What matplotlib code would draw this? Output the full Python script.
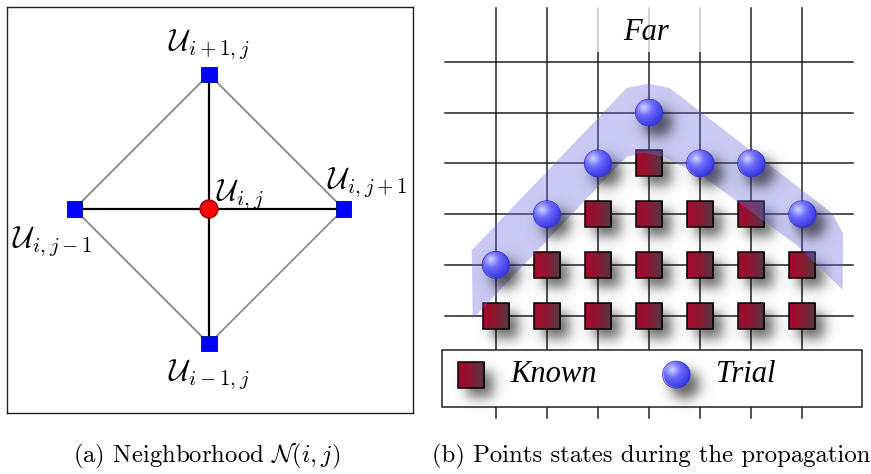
import numpy as np
import matplotlib
matplotlib.use("Agg")
import matplotlib.pyplot as plt
from matplotlib.patches import Rectangle, Polygon, Ellipse
from matplotlib.colors import LinearSegmentedColormap, to_rgb

plt.rcParams["mathtext.fontset"] = "cm"
plt.rcParams["font.serif"] = ["Liberation Serif", "DejaVu Serif"]

# ============================================================
# Datos
# ============================================================

# (a) vecindad: vecinos (arriba, derecha, abajo, izquierda)
nb_x = [0, 1, 0, -1]
nb_y = [1, 0, -1, 0]
nb_labels = [r"$\mathcal{U}_{i+1,j}$", r"$\mathcal{U}_{i,j+1}$",
             r"$\mathcal{U}_{i-1,j}$", r"$\mathcal{U}_{i,j-1}$"]
center_label = r"$\mathcal{U}_{i,j}$"

# (b) malla y estados
grid_cols = [0, 1, 2, 3, 4, 5, 6]
grid_rows = [0, 1, 2, 3, 4, 5]
known_x = [0, 1, 2, 3, 4, 5, 6, 1, 2, 3, 4, 5, 6, 2, 3, 4, 5, 3]
known_y = [0, 0, 0, 0, 0, 0, 0, 1, 1, 1, 1, 1, 1, 2, 2, 2, 2, 3]
trial_x = [0, 1, 6, 2, 4, 5, 3]
trial_y = [1, 2, 2, 3, 3, 3, 4]

# banda del frente (contorno)
band_x = [-0.45, -0.47, 2.56, 2.99, 3.41, 6.58, 6.80, 6.79,
          5.89, 4.06, 3.28, 2.89, 2.56, -0.44]
band_y = [-0.02, 1.29, 4.48, 4.57, 4.48, 2.02, 1.62, 0.51,
          1.39, 2.74, 3.13, 3.21, 3.13, -0.05]

captions = [r"(a) Neighborhood $\mathcal{N}(i,j)$",
            "(b) Points states during the propagation"]

# ============================================================
# Figura
# ============================================================

W, H = 871, 474
fig = plt.figure(figsize=(W / 100, H / 100), dpi=100)

# ---------------- (a) ----------------
ax1 = fig.add_axes([7 / W, (H - 413) / H, 406 / W, 406 / H])
ax1.set_xlim(-1.4996, 1.5145)
ax1.set_ylim(-1.5145, 1.4996)
ax1.set_xticks([])
ax1.set_yticks([])
for sp in ax1.spines.values():
    sp.set_linewidth(1.0)
    sp.set_color("#202020")

# diamante gris
dx = nb_x + [nb_x[0]]
dy = nb_y + [nb_y[0]]
ax1.plot(dx, dy, color="#8a8a8a", lw=1.3, zorder=1)
# cruz negra
for x, y in zip(nb_x, nb_y):
    ax1.plot([0, x], [0, y], color="black", lw=1.6, zorder=2)

sq = 0.056
for x, y in zip(nb_x, nb_y):
    ax1.add_patch(Rectangle((x - sq, y - sq), 2 * sq, 2 * sq, fc="#0000ff",
                            ec="#00008a", lw=0.6, zorder=3))
ax1.add_patch(Ellipse((0, 0), 0.135, 0.135, fc="#ff0000", ec="#700000",
                      lw=0.8, zorder=3))

fs_lab = 21.5
ax1.text(nb_x[0], 1.18, nb_labels[0], ha="center", va="baseline", fontsize=fs_lab)
ax1.text(0.875, 0.156, nb_labels[1], ha="left", va="baseline", fontsize=fs_lab)
ax1.text(nb_x[2], -1.27, nb_labels[2], ha="center", va="baseline", fontsize=fs_lab)
ax1.text(-1.46, -0.28, nb_labels[3], ha="left", va="baseline", fontsize=fs_lab)
ax1.text(0.055, 0.067, center_label, ha="left", va="baseline", fontsize=fs_lab)

# ---------------- (b) ----------------
ax2 = fig.add_axes([430 / W, (H - 420) / H, 441 / W, 420 / H])
ax2.set_xlim(-1.286, 7.345)
ax2.set_ylim(-2.053, 6.215)
ax2.axis("off")

for c in grid_cols:
    ax2.plot([c, c], [-2.01, 6.06], color="#222222", lw=1.1, zorder=1)
for r in grid_rows:
    ax2.plot([-1.0, 7.0], [r, r], color="#222222", lw=1.1, zorder=1)

# zona "Far" aclarada
ax2.add_patch(Rectangle((1.75, 5.19), 2.5, 1.0, fc="white", ec="none",
                        alpha=0.75, zorder=1.5))
ax2.text(2.95, 5.58, "Far", ha="center", va="center", fontsize=22,
         family="serif", style="italic", zorder=2)

cmap_known = LinearSegmentedColormap.from_list("known", ["#a8082c", "#8a1a32", "#4e3b45"])
grad = np.linspace(0, 1, 64).reshape(1, -1)

# imagen de esfera
n = 80
u = np.linspace(-1, 1, n)
U, V = np.meshgrid(u, u)
R = np.sqrt(U ** 2 + V ** 2)
D = np.sqrt((U + 0.35) ** 2 + (V - 0.38) ** 2) / 1.35
c_hi = np.array(to_rgb("#d4d4ff"))
c_mid = np.array(to_rgb("#6d6dfc"))
c_edge = np.array(to_rgb("#3a3ae4"))
t1 = np.clip(D / 0.45, 0, 1)[..., None]
t2 = np.clip((D - 0.45) / 0.55, 0, 1)[..., None]
rgb = np.where(D[..., None] < 0.45, c_hi * (1 - t1) + c_mid * t1,
               c_mid * (1 - t2) + c_edge * t2)
alpha = np.clip((1 - R) * 30, 0, 1)[..., None]
sphere_img = np.concatenate([rgb, alpha], axis=2)

hs = 0.255   # medio lado del cuadrado
hr = 0.265   # radio de la esfera

# sombras difusas
L = 0.6
w_blur = 0.075
s = np.linspace(-L, L, 90)
SX, SY = np.meshgrid(s, s)
sig = lambda t: 1 / (1 + np.exp(-t / w_blur))
sh_sq = np.zeros((90, 90, 4))
sh_sq[..., 3] = 0.6 * sig(hs - np.abs(SX)) * sig(hs - np.abs(SY))
sh_ci = np.zeros((90, 90, 4))
sh_ci[..., 3] = 0.6 * sig(hr - np.sqrt(SX ** 2 + SY ** 2))


def shadow(ax, x, y, img, z):
    ox, oy = x + 0.17, y - 0.19
    ax.imshow(img, extent=(ox - L, ox + L, oy - L, oy + L), origin="lower",
              aspect="auto", zorder=z, interpolation="bilinear")


def known(ax, x, y, z=3):
    shadow(ax, x, y, sh_sq, z - 0.5)
    ax.imshow(grad, cmap=cmap_known, extent=(x - hs, x + hs, y - hs, y + hs),
              aspect="auto", zorder=z, interpolation="bilinear")
    ax.add_patch(Rectangle((x - hs, y - hs), 2 * hs, 2 * hs, fc="none",
                           ec="black", lw=1.1, zorder=z + 0.1))


def trial(ax, x, y, z=5):
    shadow(ax, x, y, sh_ci, z - 0.5)
    ax.imshow(sphere_img, extent=(x - hr, x + hr, y - hr, y + hr),
              origin="lower", aspect="auto", zorder=z, interpolation="bilinear")
    ax.add_patch(Ellipse((x, y), 2 * hr, 2 * hr, fc="none", ec="#3030d8",
                         lw=0.6, zorder=z + 0.1))


for x, y in zip(known_x, known_y):
    known(ax2, x, y)

ax2.add_patch(Polygon(np.column_stack([band_x, band_y]), closed=True,
                      fc="#6a6ae0", ec="none", alpha=0.36, zorder=4,
                      joinstyle="round"))

for x, y in zip(trial_x, trial_y):
    trial(ax2, x, y)

# leyenda
ax2.add_patch(Rectangle((-1.06, -1.80), 8.23, 1.125, fc="white", ec="#222222",
                        lw=1.1, zorder=6))
known(ax2, -0.48, -1.16, z=7.5)
trial(ax2, 3.53, -1.16, z=7.5)
ax2.text(0.28, -1.16, "Known", ha="left", va="center", fontsize=22,
         family="serif", style="italic", zorder=8)
ax2.text(4.31, -1.16, "Trial", ha="left", va="center", fontsize=22,
         family="serif", style="italic", zorder=8)

ax2.set_xlim(-1.286, 7.345)
ax2.set_ylim(-2.053, 6.215)

# leyendas de subfigura
fig.text(207 / W, (H - 462) / H, captions[0], ha="center", va="baseline",
         fontsize=17.8, family="cmr10")
fig.text(651 / W, (H - 462) / H, captions[1], ha="center", va="baseline",
         fontsize=17.8, family="cmr10")

fig.savefig("out.png", dpi=100)
